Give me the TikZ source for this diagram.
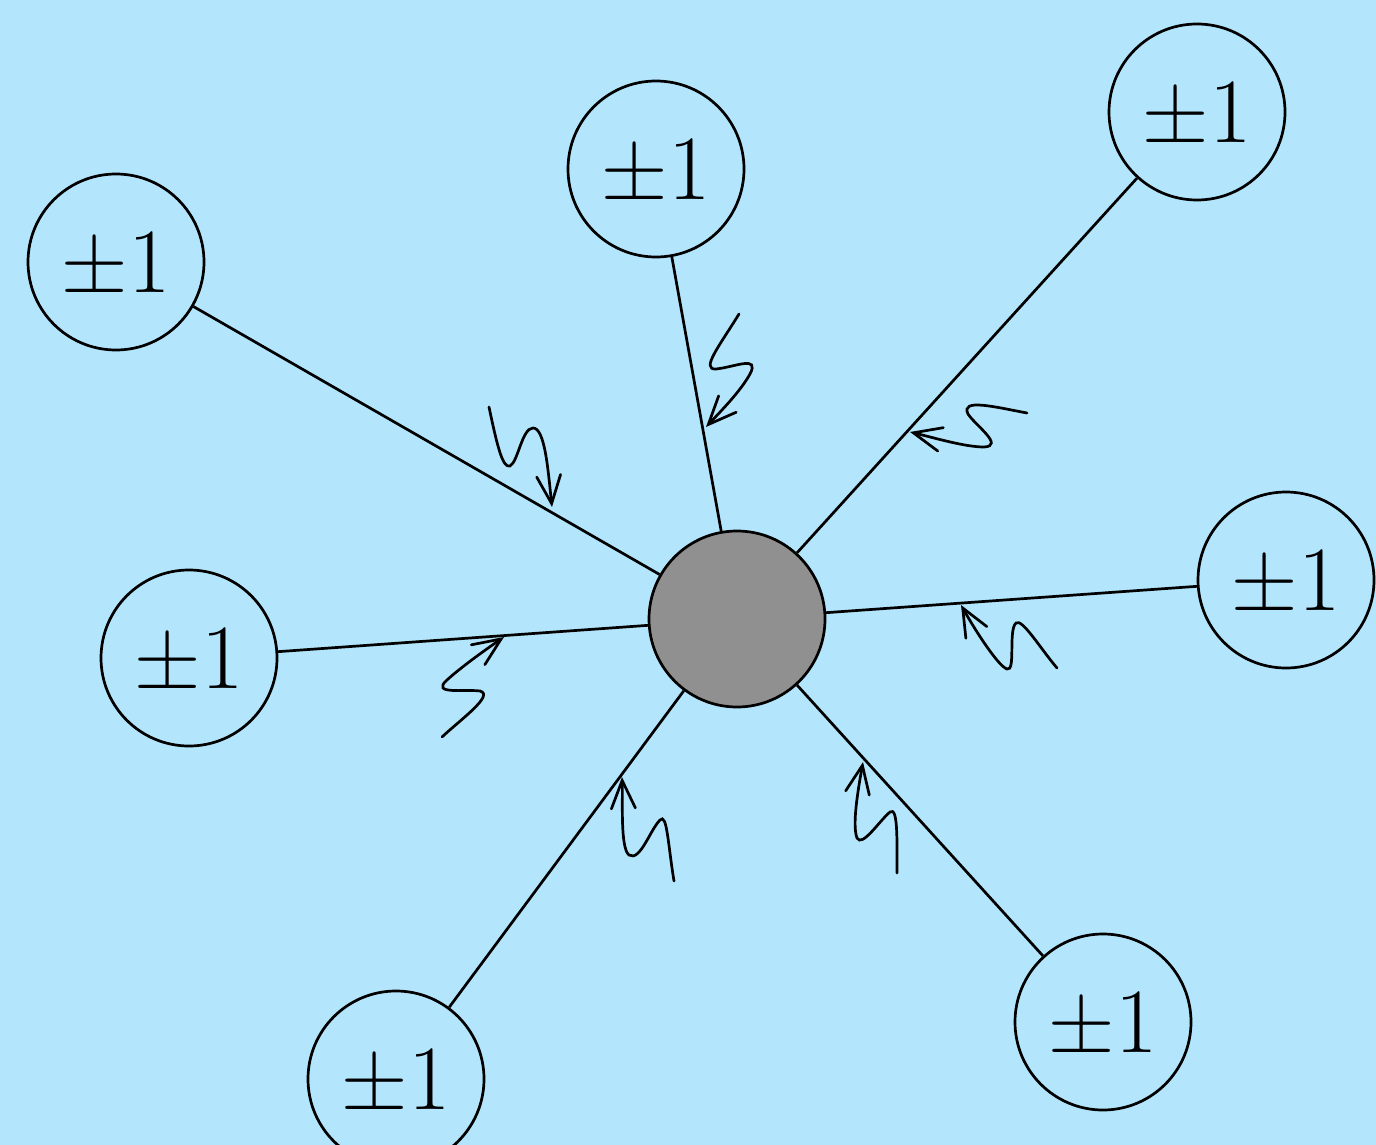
\documentclass[tikz,border=0pt]{standalone}
\usetikzlibrary{arrows.meta}
\definecolor{bgblue}{RGB}{179,229,252}
\definecolor{hubgray}{RGB}{144,144,144}
\begin{document}
\begin{tikzpicture}[x=1pt,y=-1pt,
  vnode/.style={circle,draw,line width=2.7pt,minimum size=176pt,inner sep=0pt,
    font=\fontsize{92}{100}\selectfont},
  hub/.style={circle,draw,fill=hubgray,line width=2.7pt,minimum size=176pt,inner sep=0pt},
  edge/.style={line width=2.7pt},
  wiggle/.style={line width=2.7pt,line cap=round,-{Straight Barb[length=28pt,width=24pt,line cap=round]}}]
\clip (0,0) rectangle (1376,1145);
\fill[bgblue] (0,0) rectangle (1376,1145);
\node[hub] (c) at (737,619) {};
\node[vnode] (tl) at (116,262) {±1};
\node[vnode] (t) at (656,169) {±1};
\node[vnode] (tr) at (1197,112) {±1};
\node[vnode] (r) at (1286,580) {±1};
\node[vnode] (l) at (189,658) {±1};
\node[vnode] (bl) at (396,1079) {±1};
\node[vnode] (br) at (1103,1022) {±1};
\foreach \n in {tl,t,tr,r,l,bl,br} \draw[edge] (\n) -- (c);
% wiggly arrows
\draw[wiggle] (489,407) .. controls (498,450) and (503,468) .. (510,466)
  .. controls (518,462) and (522,428) .. (533,428)
  .. controls (545,428) and (548,470) .. (552,507);
\draw[wiggle] (739,314) .. controls (720,345) and (700,370) .. (716,369)
  .. controls (735,367) and (760,355) .. (750,374)
  .. controls (740,392) and (720,412) .. (706,427);
\draw[wiggle] (1027,413) .. controls (995,407) and (960,398) .. (968,414)
  .. controls (975,425) and (1005,446) .. (984,447)
  .. controls (965,447) and (935,438) .. (910,432);
\draw[wiggle] (1057,668) .. controls (1040,648) and (1022,618) .. (1016,623)
  .. controls (1008,630) and (1016,672) .. (1007,669)
  .. controls (998,666) and (975,630) .. (961,605);
\draw[wiggle] (442,737) .. controls (460,720) and (495,695) .. (480,691)
  .. controls (465,689) and (430,695) .. (447,680)
  .. controls (460,668) and (485,650) .. (504,637);
\draw[wiggle] (674,881) .. controls (668,845) and (667,812) .. (660,820)
  .. controls (650,830) and (640,862) .. (629,855)
  .. controls (620,848) and (623,800) .. (622,777);
\draw[wiggle] (897,873) .. controls (897,840) and (898,806) .. (890,812)
  .. controls (880,820) and (862,848) .. (857,838)
  .. controls (852,825) and (858,790) .. (863,762);
\end{tikzpicture}
\end{document}
